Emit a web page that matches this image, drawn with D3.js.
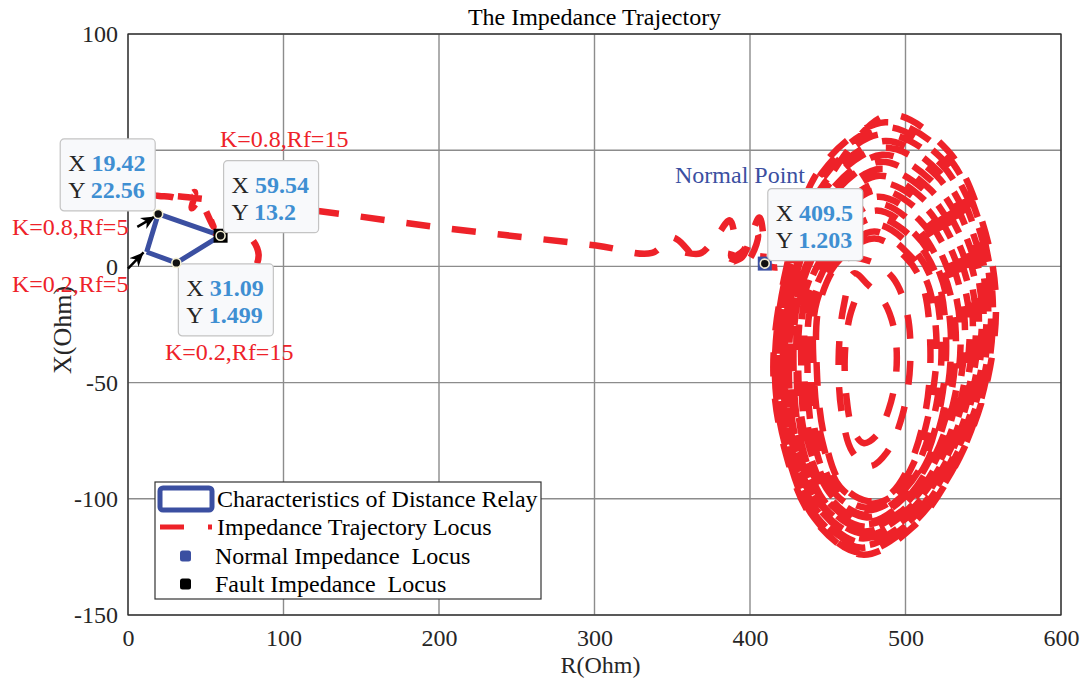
<!DOCTYPE html>
<html><head><meta charset="utf-8">
<script src="https://cdn.jsdelivr.net/npm/d3@7"></script>
<style>
body{margin:0;background:#fff}
text{font-family:"Liberation Serif","Times New Roman",serif}
</style>
</head><body>
<svg id="c" width="1087" height="683"></svg>
<script>
// ---------- data ----------
const xTicks = [0,100,200,300,400,500,600];
const yTicks = [-150,-100,-50,0,50,100];
const relayR = [12,19.42,59.54,31.09,12];
const relayX = [6.2,22.56,13.2,1.499,6.2];
const normalPoint = [409.5,1.203];
const faultPoints = [[59.54,13.2]];
const tipValues = [
  {r:19.42, lx:"19.42", ly:"22.56", v:22.56, pos:"ul"},
  {r:59.54, lx:"59.54", ly:"13.2", v:13.2, pos:"ur"},
  {r:31.09, lx:"31.09", ly:"1.499", v:1.499, pos:"lr"},
  {r:409.5, lx:"409.5", ly:"1.203", v:1.203, pos:"ur"}
];
// trajectory near the relay zone
const trajZone = [[64,-13],[74,-9],[81,-2],[84,5],[80,11.5],[72,15.5],[64,16],[59.5,13.2],[55,15.5],[57,19],[53,21],[55,17],[50,24],[47,29],[41,25],[43,32],[36,29],[27,30],[20,30.3],[16,30.8]];
// straight transition
const trajLine = [[30,30.3],[70,27.4],[123.5,23.7],[200,16.8],[301,9],[337,5.8]];
// wiggles before the normal point
const trajWiggle = [[350,12.5],[363,4],[355,6.2],[368,5.6],[378,12.5],[387,19.8],[390,12],[388,4],[396,7],[400,13.6],[405,13.8],[398,2],[388,1.7],[395,4],[406,21],[409,10],[409.5,1.2],[420,0],[428,12]];
// power swing loops
const loop1  = [[488,65],[527,50],[548,22],[558,-12],[553,-48],[535,-82],[505,-112],[472,-124],[440,-108],[422,-78],[415,-45],[422,-5],[445,42]];
const loop1b = [[487,62],[526,48],[547,20],[556,-13],[552,-48],[534,-83],[504,-111],[470,-123],[441,-108],[423,-78],[416,-46],[423,-4],[446,40]];
const loop2  = [[486,60],[524,46],[546,19],[555,-14],[550,-49],[532,-82],[503,-110],[471,-121],[442,-107],[424,-77],[418,-45],[424,-6],[447,38]];
const loop2b = [[485,57],[523,44],[544,17],[553,-15],[549,-49],[531,-82],[502,-110],[472,-120],[442,-106],[425,-76],[419,-44],[425,-7],[448,36]];
const loop3  = [[487,54],[521,41],[543,15],[552,-15],[547,-50],[530,-83],[502,-109],[472,-119],[443,-105],[426,-77],[420,-44],[426,-7],[448,33]];
const loop3b = [[486,51],[520,39],[541,13],[550,-16],[545,-51],[528,-82],[501,-108],[471,-117],[444,-104],[427,-76],[421,-45],[427,-8],[449,30]];
const loop4  = [[485,48],[518,36],[540,11],[549,-17],[544,-51],[527,-83],[500,-107],[472,-116],[445,-104],[428,-76],[422,-44],[428,-8],[450,28]];
const loop4b = [[484,45],[516,33],[538,9],[547,-18],[542,-52],[525,-84],[500,-106],[473,-115],[446,-103],[429,-75],[424,-44],[429,-9],[450,25]];
const loop5  = [[484,42],[515,31],[536,7],[545,-19],[541,-52],[524,-84],[499,-106],[473,-114],[447,-103],[430,-76],[425,-44],[430,-10],[451,23]];
const loop5b = [[483,39],[513,28],[534,5],[543,-20],[539,-52],[522,-84],[498,-105],[473,-113],[448,-102],[432,-76],[426,-44],[431,-10],[452,20]];
const loop6  = [[483,36],[512,26],[532,3],[541,-21],[537,-53],[521,-84],[498,-105],[474,-112],[449,-102],[433,-76],[428,-44],[432,-11],[453,18]];
const loop6b = [[482,33],[510,23],[530,1],[538,-23],[534,-54],[519,-84],[497,-104],[474,-111],[450,-101],[434,-75],[430,-44],[433,-12],[454,16]];
const loop7  = [[482,30],[509,20],[527,-1],[535,-24],[532,-55],[517,-84],[496,-103],[475,-110],[452,-100],[436,-75],[431,-44],[435,-12],[455,14]];
const loop7b = [[482,27],[507,17],[524,-2],[532,-25],[529,-56],[515,-84],[495,-102],[475,-108],[453,-99],[437,-75],[433,-44],[436,-12],[455,12]];
const loop8  = [[481,24],[506,14],[522,-3],[529,-27],[526,-57],[513,-85],[494,-101],[475,-107],[454,-99],[439,-75],[435,-45],[438,-13],[456,10]];
const loop8b = [[481,21],[505,12],[520,-4],[526,-29],[523,-58],[511,-85],[493,-100],[475,-105],[455,-98],[441,-75],[437,-45],[440,-14],[457,8]];
const loop9  = [[481,18],[503,9],[517,-6],[523,-31],[520,-59],[508,-85],[492,-100],[476,-104],[456,-97],[443,-75],[439,-45],[441,-14],[458,6]];
const loop9b = [[480,15],[501,6],[514,-7],[520,-33],[516,-60],[505,-85],[491,-99],[476,-102],[458,-95],[446,-74],[441,-45],[443,-15],[459,4]];
const loop10 = [[480,12],[500,4],[511,-8],[516,-35],[513,-62],[503,-85],[490,-98],[476,-101],[459,-94],[448,-74],[443,-45],[445,-15],[460,3]];
const loopIn1 = [[478,2],[492,-5],[501,-20],[503,-42],[498,-64],[488,-80],[477,-86],[466,-80],[459,-63],[457,-40],[460,-18],[467,-3]];
const loopIn2 = [[476,-8],[486,-15],[493,-28],[494,-46],[489,-62],[481,-73],[473,-76],[466,-70],[462,-56],[461,-38],[464,-22],[469,-12]];
const loops = [loop1,loop1b,loop2,loop2b,loop3,loop3b,loop4,loop4b,loop5,loop5b,loop6,loop6b,loop7,loop7b,loop8,loop8b,loop9,loop9b,loop10,loopIn1,loopIn2];

const legendLabels = ["Characteristics of Distance Relay","Impedance Trajectory Locus","Normal Impedance  Locus","Fault Impedance  Locus"];

// ---------- drawing ----------
const RED = "#ee2229", BLUE = "#3b4fa1", TIPBLUE = "#3f8fd2", INK = "#262626";
const svg = d3.select("#c");
svg.append("rect").attr("width",1087).attr("height",683).attr("fill","#fff");
const x = d3.scaleLinear().domain([0,600]).range([128,1061]);
const y = d3.scaleLinear().domain([-150,100]).range([615,34]);

const defs = svg.append("defs");
defs.append("clipPath").attr("id","clip").append("rect")
  .attr("x",x(0)).attr("y",y(100)).attr("width",x(600)-x(0)).attr("height",y(-150)-y(100));
defs.append("marker").attr("id","ah").attr("viewBox","0 0 10 10").attr("refX",10).attr("refY",5)
  .attr("markerWidth",14).attr("markerHeight",14).attr("markerUnits","userSpaceOnUse").attr("orient","auto")
  .append("path").attr("d","M0,0.5 L10,5 L0,9.5 L3,5 Z").attr("fill","#000");

// grid
const grid = svg.append("g");
grid.selectAll(".gx").data(xTicks).join("line")
  .attr("x1",d=>x(d)).attr("x2",d=>x(d)).attr("y1",y(-150)).attr("y2",y(100))
  .attr("stroke","#8c8c8c").attr("stroke-width",1.4);
grid.selectAll(".gy").data(yTicks).join("line")
  .attr("y1",d=>y(d)).attr("y2",d=>y(d)).attr("x1",x(0)).attr("x2",x(600))
  .attr("stroke","#8c8c8c").attr("stroke-width",1.4);

// axes
const axB = svg.append("g").attr("transform",`translate(0,${y(-150)})`)
  .call(d3.axisBottom(x).tickValues(xTicks).tickSize(0).tickPadding(14).tickFormat(d=>String(d)));
const axL = svg.append("g").attr("transform",`translate(${x(0)},0)`)
  .call(d3.axisLeft(y).tickValues(yTicks).tickSize(0).tickPadding(10).tickFormat(d=>String(d)));
[axB,axL].forEach(a=>{
  a.select(".domain").remove();
  a.attr("font-size",24).attr("font-family","Liberation Serif");
  a.selectAll("text").attr("fill",INK);
});
svg.append("rect").attr("x",x(0)).attr("y",y(100)).attr("width",x(600)-x(0)).attr("height",y(-150)-y(100))
  .attr("fill","none").attr("stroke",INK).attr("stroke-width",1.2);

// title & axis labels
svg.append("text").attr("x",(x(0)+x(600))/2).attr("y",25).attr("text-anchor","middle")
  .attr("font-size",24).attr("fill","#000").text("The Impedance Trajectory");
svg.append("text").attr("x",(x(0)+x(600))/2+6).attr("y",673).attr("text-anchor","middle")
  .attr("font-size",24).attr("fill",INK).text("R(Ohm)");
svg.append("text").attr("transform",`translate(71,330) rotate(-90)`).attr("text-anchor","middle")
  .attr("font-size",26).attr("fill",INK).text("X(Ohm)");

const plot = svg.append("g").attr("clip-path","url(#clip)");

// relay characteristic
const relayPts = relayR.map((r,i)=>[r,relayX[i]]);
plot.append("path").datum(relayPts)
  .attr("d",d3.line().x(d=>x(d[0])).y(d=>y(d[1])))
  .attr("fill","none").attr("stroke",BLUE).attr("stroke-width",5).attr("stroke-linejoin","round");

// trajectory
const traj = [].concat(trajZone, trajLine, trajWiggle, ...loops);
plot.append("path").datum(traj)
  .attr("d",d3.line().x(d=>x(d[0])).y(d=>y(d[1])).curve(d3.curveCatmullRom.alpha(0.5)))
  .attr("fill","none").attr("stroke",RED).attr("stroke-width",6.5).attr("stroke-dasharray","24,22");

// markers
plot.append("rect").attr("x",x(normalPoint[0])-7).attr("y",y(normalPoint[1])-7).attr("width",14).attr("height",14)
  .attr("fill",BLUE);
plot.selectAll(".fp").data(faultPoints).join("rect")
  .attr("x",d=>x(d[0])-7).attr("y",d=>y(d[1])-7).attr("width",14).attr("height",14).attr("fill","#000");

// arrows
const arrows = [[[0,-1],[10,6]],[[6,17],[17.5,21.5]]];
svg.selectAll(".ar").data(arrows).join("line")
  .attr("x1",d=>x(d[0][0])).attr("y1",d=>y(d[0][1])).attr("x2",d=>x(d[1][0])).attr("y2",d=>y(d[1][1]))
  .attr("stroke","#000").attr("stroke-width",2.5).attr("marker-end","url(#ah)");

// annotations
const notes = [
  {t:"K=0.8,Rf=15", px:220, py:147},
  {t:"K=0.8,Rf=5", px:12, py:235},
  {t:"K=0.2,Rf=5", px:12, py:292},
  {t:"K=0.2,Rf=15", px:165, py:360}
];
svg.selectAll(".nt").data(notes).join("text").attr("x",d=>d.px).attr("y",d=>d.py)
  .attr("font-size",24).attr("fill",RED).text(d=>d.t);
svg.append("text").attr("x",675).attr("y",183).attr("font-size",24).attr("fill",BLUE).text("Normal Point");

// data tips
const off = {ul:[-98,-75], ur:[3,-75], lr:[2,1]};
tipValues.forEach(t=>{
  const px = x(t.r), py = y(t.v);
  const o = off[t.pos];
  const g = svg.append("g").attr("transform",`translate(${px+o[0]},${py+o[1]})`);
  g.append("rect").attr("width",95).attr("height",72).attr("rx",4)
    .attr("fill","#f8f9fb").attr("stroke","#c4c4c4").attr("stroke-width",1.2);
  [["X",t.lx,32],["Y",t.ly,59]].forEach(([k,v,by])=>{
    const tx = g.append("text").attr("x",8).attr("y",by).attr("font-size",24).attr("xml:space","preserve");
    tx.append("tspan").attr("fill",INK).text(k+" ");
    tx.append("tspan").attr("fill",TIPBLUE).attr("font-weight","bold").text(v);
  });
  svg.append("circle").attr("cx",px).attr("cy",py).attr("r",4.5)
    .attr("fill","#111").attr("stroke","#f3eed2").attr("stroke-width",1.6);
});

// legend
const lg = svg.append("g");
lg.append("rect").attr("x",155).attr("y",482).attr("width",386).attr("height",117)
  .attr("fill","#fff").attr("stroke","#333").attr("stroke-width",1.2);
const rowsY = [499,527,556,584];
lg.append("rect").attr("x",160).attr("y",rowsY[0]-11).attr("width",52).attr("height",22).attr("rx",3)
  .attr("fill","#fff").attr("stroke",BLUE).attr("stroke-width",5);
lg.append("line").attr("x1",160).attr("x2",212).attr("y1",rowsY[1]).attr("y2",rowsY[1])
  .attr("stroke",RED).attr("stroke-width",5).attr("stroke-dasharray","24,24");
lg.append("rect").attr("x",180).attr("y",rowsY[2]-5.5).attr("width",11).attr("height",11).attr("rx",2.5).attr("fill",BLUE);
lg.append("rect").attr("x",180).attr("y",rowsY[3]-5.5).attr("width",11).attr("height",11).attr("rx",2.5).attr("fill","#000");
lg.selectAll(".lt").data(legendLabels).join("text")
  .attr("x",(d,i)=>i<2?217:215).attr("y",(d,i)=>rowsY[i]+8)
  .attr("font-size",24).attr("fill","#000").attr("xml:space","preserve").style("white-space","pre").text(d=>d);
</script>
</body></html>
